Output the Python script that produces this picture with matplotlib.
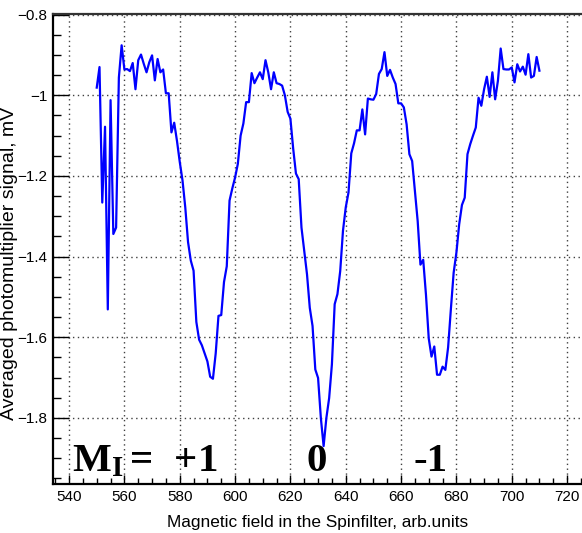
import matplotlib
matplotlib.use('Agg')
import matplotlib.pyplot as plt
from matplotlib.ticker import MultipleLocator, FuncFormatter

# field values (arb.units) and averaged signal (mV)
field = [550, 551, 552, 553, 554, 555, 556, 557, 558, 559,
         560, 561, 562, 563, 564, 565, 566, 567, 568, 569,
         570, 571, 572, 573, 574, 575, 576, 577, 578, 579,
         580, 581, 582, 583, 584, 585, 586, 587, 588, 589,
         590, 591, 592, 593, 594, 595, 596, 597, 598, 599,
         600, 601, 602, 603, 604, 605, 606, 607, 608, 609,
         610, 611, 612, 613, 614, 615, 616, 617, 618, 619,
         620, 621, 622, 623, 624, 625, 626, 627, 628, 629,
         630, 631, 632, 633, 634, 635, 636, 637, 638, 639,
         640, 641, 642, 643, 644, 645, 646, 647, 648, 649,
         650, 651, 652, 653, 654, 655, 656, 657, 658, 659,
         660, 661, 662, 663, 664, 665, 666, 667, 668, 669,
         670, 671, 672, 673, 674, 675, 676, 677, 678, 679,
         680, 681, 682, 683, 684, 685, 686, 687, 688, 689,
         690, 691, 692, 693, 694, 695, 696, 697, 698, 699,
         700, 701, 702, 703, 704, 705, 706, 707, 708, 709, 710]

signal = [-0.981, -0.930, -1.266, -1.078, -1.531, -1.012, -1.344, -1.328, -0.956, -0.876,
          -0.936, -0.935, -0.940, -0.920, -0.985, -0.913, -0.899, -0.922, -0.943, -0.918,
          -0.901, -0.963, -0.910, -0.943, -0.936, -0.995, -0.995, -1.092, -1.068, -1.113,
          -1.165, -1.211, -1.278, -1.364, -1.410, -1.435, -1.562, -1.606, -1.620, -1.640,
          -1.660, -1.698, -1.703, -1.640, -1.547, -1.545, -1.463, -1.424, -1.261, -1.231,
          -1.204, -1.170, -1.100, -1.070, -1.017, -1.017, -0.945, -0.970, -0.956, -0.943,
          -0.960, -0.913, -0.943, -0.985, -0.943, -0.970, -0.972, -0.976, -1.000, -1.041,
          -1.058, -1.132, -1.194, -1.208, -1.328, -1.386, -1.444, -1.527, -1.572, -1.680,
          -1.701, -1.800, -1.870, -1.800, -1.751, -1.667, -1.518, -1.493, -1.436, -1.336,
          -1.278, -1.241, -1.144, -1.119, -1.087, -1.087, -1.035, -1.097, -1.008, -1.010,
          -1.011, -0.997, -0.947, -0.935, -0.893, -0.952, -0.937, -0.956, -0.972, -1.020,
          -1.020, -1.030, -1.072, -1.146, -1.163, -1.238, -1.312, -1.420, -1.408, -1.495,
          -1.603, -1.648, -1.623, -1.693, -1.693, -1.673, -1.681, -1.625, -1.530, -1.440,
          -1.390, -1.320, -1.272, -1.254, -1.146, -1.121, -1.100, -1.080, -1.006, -1.026,
          -0.985, -0.954, -1.004, -0.943, -1.010, -0.964, -0.884, -0.935, -0.936, -0.936,
          -0.931, -0.968, -0.923, -0.941, -0.929, -0.949, -0.898, -0.956, -0.952, -0.905, -0.939]

# hyperfine component labels
mi_labels = [r'$\mathbf{M_I}\,$=  +1', '0', '-1']
mi_pos = [541.0, 629.6, 670.8]

plt.rcParams['mathtext.fontset'] = 'custom'
plt.rcParams['mathtext.rm'] = 'Liberation Serif'
plt.rcParams['mathtext.bf'] = 'Liberation Serif:bold'

sans = ['Liberation Sans', 'DejaVu Sans']

fig = plt.figure(figsize=(5.82, 5.33), dpi=100)
ax = fig.add_axes([0.0911, 0.0919, 0.9175, 0.8814])

ax.plot(field, signal, color='#0000ff', lw=1.6)

ax.set_xlim(534.2, 727.2)
ax.set_ylim(-1.964, -0.799)

ax.xaxis.set_major_locator(MultipleLocator(20))
ax.xaxis.set_minor_locator(MultipleLocator(5))
ax.yaxis.set_major_locator(MultipleLocator(0.2))
ax.yaxis.set_minor_locator(MultipleLocator(0.05))
ax.yaxis.set_major_formatter(FuncFormatter(lambda v, p: ('%g' % round(v, 2)).replace('-', '\u2212')))

ax.grid(True, which='major', color='0.25', linestyle=(0, (1, 2.5)), lw=1.0)

ax.tick_params(axis='x', which='major', direction='in', length=6.5, width=1, pad=4)
ax.tick_params(axis='x', which='minor', direction='in', length=4, width=1)
ax.tick_params(axis='y', which='major', direction='in', length=11.5, width=1, pad=4)
ax.tick_params(axis='y', which='minor', direction='in', length=6, width=1)

for lab in ax.get_xticklabels() + ax.get_yticklabels():
    lab.set_family(sans)
    lab.set_fontsize(11)

for s in ['left', 'bottom']:
    ax.spines[s].set_linewidth(1.6)
ax.spines['top'].set_linewidth(1.6)
ax.spines['top'].set_color('0.2')
ax.spines['right'].set_visible(False)

fig.text(0.546, 0.011, 'Magnetic field in the Spinfilter, arb.units',
         family=sans, fontsize=12.4, ha='center', va='baseline')
fig.text(0.0155, 0.505, 'Averaged photomultiplier signal, mV',
         family=sans, fontsize=14, rotation=90, ha='center', va='center')

for lab, xp in zip(mi_labels, mi_pos):
    ha = 'left' if xp < 560 else 'center'
    ax.text(xp, -1.932, lab, family='Liberation Serif', fontweight='bold',
            fontsize=29.5, ha=ha, va='baseline')

plt.savefig('out.png', dpi=100)
